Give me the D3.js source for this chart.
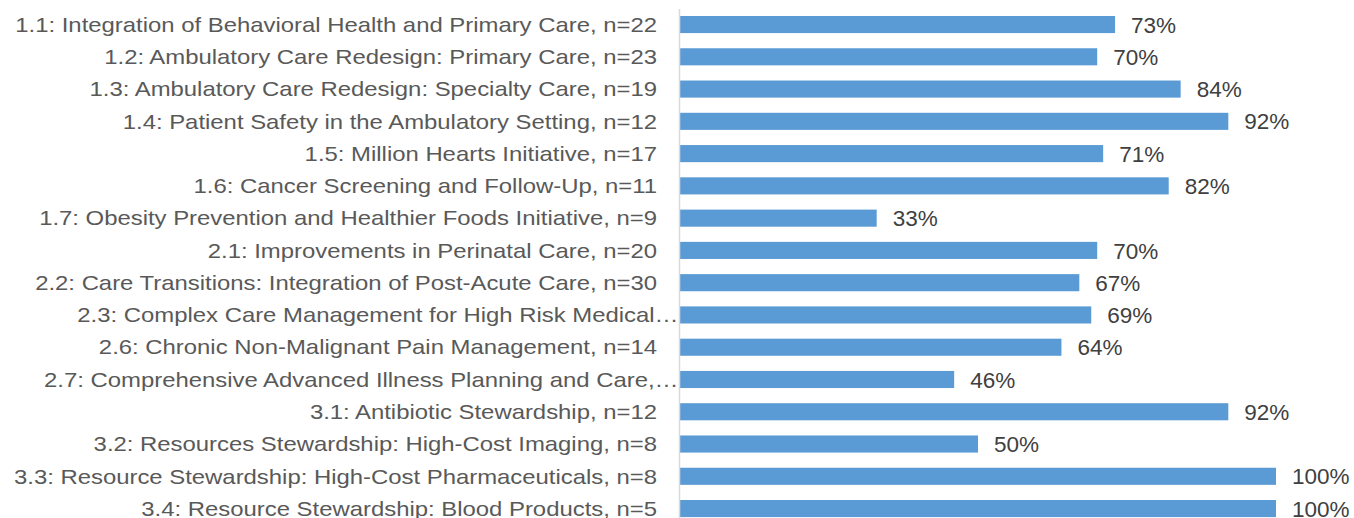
<!DOCTYPE html>
<html>
<head>
<meta charset="utf-8">
<script src="https://cdn.jsdelivr.net/npm/d3@7"></script>
<style>
  body { margin: 0; background: #fff; }
  svg { display: block; font-family: "Liberation Sans", Arial, sans-serif; }
</style>
</head>
<body>
<svg id="chart" width="1354" height="518"></svg>
<script>
// chart data
const categories = [
  "1.1: Integration of Behavioral Health and Primary Care, n=22",
  "1.2: Ambulatory Care Redesign: Primary Care, n=23",
  "1.3: Ambulatory Care Redesign: Specialty Care, n=19",
  "1.4: Patient Safety in the Ambulatory Setting, n=12",
  "1.5: Million Hearts Initiative, n=17",
  "1.6: Cancer Screening and Follow-Up, n=11",
  "1.7: Obesity Prevention and Healthier Foods Initiative, n=9",
  "2.1: Improvements in Perinatal Care, n=20",
  "2.2: Care Transitions: Integration of Post-Acute Care, n=30",
  "2.3: Complex Care Management for High Risk Medical\u2026",
  "2.6: Chronic Non-Malignant Pain Management, n=14",
  "2.7: Comprehensive Advanced Illness Planning and Care,\u2026",
  "3.1: Antibiotic Stewardship, n=12",
  "3.2: Resources Stewardship: High-Cost Imaging, n=8",
  "3.3: Resource Stewardship: High-Cost Pharmaceuticals, n=8",
  "3.4: Resource Stewardship: Blood Products, n=5"
];
const values = [73, 70, 84, 92, 71, 82, 33, 70, 67, 69, 64, 46, 92, 50, 100, 100];

const data = categories.map((c, i) => ({ label: c, value: values[i] }));

const svg = d3.select("#chart");
const axisX = 679.5;
const labelStretch = 1.195; // reference text is drawn wider than Liberation Sans

const x = d3.scaleLinear()
  .domain([0, 100])
  .range([680, 1276]);

const y = d3.scaleBand()
  .domain(categories)
  .range([8.4, 524.7])
  .paddingInner(0.47)
  .paddingOuter(0.235);

// bars
svg.append("g")
  .attr("class", "bars")
  .attr("fill", "#5B9BD5")
  .selectAll("rect")
  .data(data)
  .join("rect")
  .attr("x", x(0))
  .attr("y", d => y(d.label))
  .attr("width", d => x(d.value) - x(0))
  .attr("height", y.bandwidth());

// value labels
svg.append("g")
  .attr("class", "values")
  .attr("fill", "#404040")
  .attr("font-size", 22.5)
  .selectAll("text")
  .data(data)
  .join("text")
  .attr("x", d => x(d.value) + 16)
  .attr("y", d => y(d.label) + y.bandwidth() / 2)
  .attr("dy", "0.36em")
  .text(d => d.value + "%");

// category labels
svg.append("g")
  .attr("class", "labels")
  .attr("fill", "#595959")
  .attr("font-size", 20)
  .attr("text-anchor", "end")
  .selectAll("text")
  .data(data)
  .join("text")
  .attr("transform", d => {
    const tx = d.label.endsWith("\u2026") ? axisX - 1 : 657;
    return `translate(${tx},${y(d.label) + y.bandwidth() / 2}) scale(${labelStretch},1)`;
  })
  .attr("dy", "0.36em")
  .text(d => d.label);

// axis line
svg.append("line")
  .attr("x1", axisX).attr("x2", axisX)
  .attr("y1", 9).attr("y2", 518)
  .attr("stroke", "#D9D9D9")
  .attr("stroke-width", 1.5);
</script>
</body>
</html>
